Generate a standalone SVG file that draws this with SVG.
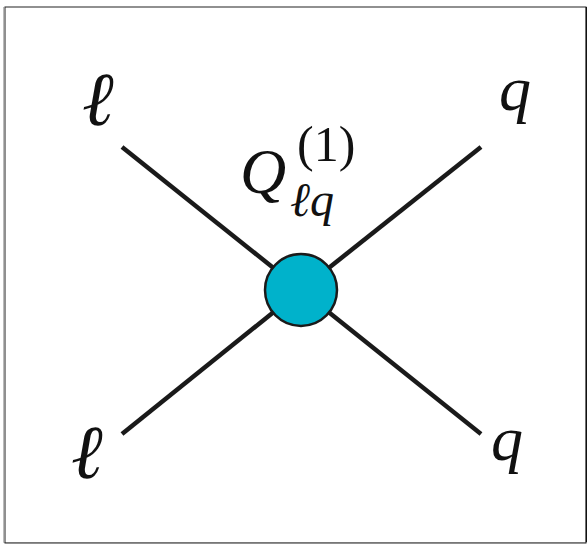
<svg xmlns="http://www.w3.org/2000/svg" width="587" height="544" viewBox="0 0 587 544">
<defs>
<style>
.ln{stroke:#1a1a1a;stroke-width:4.5;stroke-linecap:butt}
.lab{font-family:"Liberation Serif","Times New Roman",serif;fill:#111}
.it{font-style:italic}
</style>
</defs>
<rect x="0" y="0" width="587" height="544" fill="#fff"/>
<line x1="3.5" y1="7" x2="3.5" y2="543" stroke="#bbb" stroke-width="1"/>
<line x1="3" y1="542.5" x2="587" y2="542.5" stroke="#ccc" stroke-width="1"/>
<rect x="5" y="7" width="581" height="536" fill="none" stroke="#222" stroke-width="1"/>
<line x1="586.5" y1="7" x2="586.5" y2="542" stroke="#111" stroke-width="1.5"/>
<g id="connectors">
<line class="ln" x1="122" y1="147" x2="301" y2="290"/>
<line class="ln" x1="481" y1="147" x2="301" y2="290"/>
<line class="ln" x1="122" y1="434" x2="301" y2="290"/>
<line class="ln" x1="481" y1="434" x2="301" y2="290"/>
</g>
<g id="vertex">
<circle cx="301" cy="290" r="36" fill="#00b2cb" stroke="#1a1a1a" stroke-width="2.5"/>
</g>
<g id="label-Q" class="lab">
<text class="it" x="240" y="193" font-size="64">Q</text>
<text x="297" y="161" font-size="50">(1)</text>
<text class="it" x="290" y="216" font-size="48">ℓq</text>
</g>
<g id="l-top" class="lab"><text class="it" x="82" y="125" font-size="76">ℓ</text></g>
<g id="q-top" class="lab"><text class="it" x="499" y="110" font-size="64">q</text></g>
<g id="l-bot" class="lab"><text class="it" x="71" y="478" font-size="76">ℓ</text></g>
<g id="q-bot" class="lab"><text class="it" x="491" y="460" font-size="64">q</text></g>
</svg>
